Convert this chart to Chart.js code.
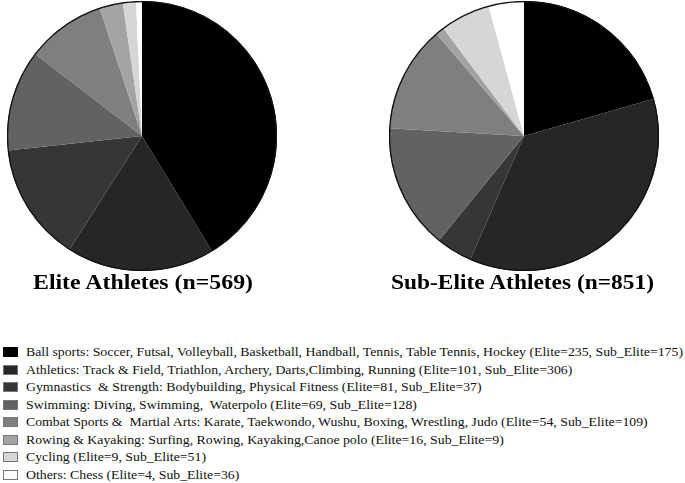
<!DOCTYPE html>
<html>
<head>
<meta charset="utf-8">
<script src="https://cdn.jsdelivr.net/npm/chart.js@4.4.1/dist/chart.umd.min.js"></script>
<style>
  html, body { margin: 0; padding: 0; background: #fff; }
  #wrap { position: relative; width: 685px; height: 483px; overflow: hidden; background: #fff; }
  .pie { position: absolute; top: 1px; width: 270px; height: 270px; }
  #c1 { left: 7px; }
  #c2 { left: 389px; }
  .title { position: absolute; top: 270px; font-family: "Liberation Serif", "Times New Roman", serif; font-weight: bold; font-size: 21px; line-height: 24px; white-space: pre; color: #000; transform-origin: left top; }
  #legend { position: absolute; left: 0; top: 343px; width: 685px; }
  .row { position: relative; height: 17.5px; color: #000; }
  .sw { position: absolute; left: 3px; top: 4px; width: 13px; height: 8px; border: 1px solid #777; box-sizing: content-box; }
  .txt { position: absolute; left: 26px; top: 0; transform-origin: left top; font-family: "Liberation Serif", "Times New Roman", serif; font-size: 13.5px; line-height: 17.5px; white-space: pre; color: #111; }
</style>
</head>
<body>
<div id="wrap">
  <canvas id="c1" class="pie" width="270" height="270"></canvas>
  <canvas id="c2" class="pie" width="270" height="270"></canvas>
  <div id="t1" class="title"></div>
  <div id="t2" class="title"></div>
  <div id="legend"></div>
</div>
<script>
// ---- data ----
const categories = [
  "Ball sports: Soccer, Futsal, Volleyball, Basketball, Handball, Tennis, Table Tennis, Hockey",
  "Athletics: Track & Field, Triathlon, Archery, Darts,Climbing, Running",
  "Gymnastics  & Strength: Bodybuilding, Physical Fitness",
  "Swimming: Diving, Swimming,  Waterpolo",
  "Combat Sports &  Martial Arts: Karate, Taekwondo, Wushu, Boxing, Wrestling, Judo",
  "Rowing & Kayaking: Surfing, Rowing, Kayaking,Canoe polo",
  "Cycling",
  "Others: Chess"
];
const eliteValues = [235, 101, 81, 69, 54, 16, 9, 4];
const subEliteValues = [175, 306, 37, 128, 109, 9, 51, 36];
const chartTitles = ["Elite Athletes (n=569)", "Sub-Elite Athletes (n=851)"];

// ---- styles ----
const sliceColors = ["#000000", "#262626", "#363636", "#626262", "#7f7f7f", "#a3a3a3", "#d6d6d6", "#ffffff"];

const outlinePlugin = {
  id: 'outline',
  afterDatasetsDraw(chart) {
    const arc = chart.getDatasetMeta(0).data[0];
    if (!arc) return;
    const ctx = chart.ctx;
    ctx.save();
    ctx.beginPath();
    ctx.arc(arc.x, arc.y, arc.outerRadius - 0.5, 0, Math.PI * 2);
    ctx.lineWidth = 1.3;
    ctx.strokeStyle = "#111";
    ctx.stroke();
    ctx.restore();
  }
};

function makePie(id, values) {
  return new Chart(document.getElementById(id), {
    type: 'pie',
    data: {
      labels: categories,
      datasets: [{
        data: values,
        backgroundColor: sliceColors,
        borderWidth: 0
      }]
    },
    options: {
      responsive: false,
      animation: false,
      layout: { padding: 0 },
      plugins: { legend: { display: false }, tooltip: { enabled: false }, title: { display: false } }
    },
    plugins: [outlinePlugin]
  });
}
makePie('c1', eliteValues);
makePie('c2', subEliteValues);

// ---- titles ----
function fitTitle(el, text, targetW, centerX) {
  el.textContent = text;
  const w = el.getBoundingClientRect().width;
  const s = targetW / w;
  el.style.left = (centerX - targetW / 2) + 'px';
  el.style.transform = 'scaleX(' + s + ')';
}
fitTitle(document.getElementById('t1'), chartTitles[0], 220, 142.5);
fitTitle(document.getElementById('t2'), chartTitles[1], 263, 522.5);

// ---- legend ----
const legend = document.getElementById('legend');
const labels = categories.map((c, i) => c + ' (Elite=' + eliteValues[i] + ', Sub_Elite=' + subEliteValues[i] + ')');
const spans = [];
labels.forEach((lab, i) => {
  const row = document.createElement('div');
  row.className = 'row';
  const sw = document.createElement('span');
  sw.className = 'sw';
  sw.style.background = sliceColors[i];
  if (i === 0) sw.style.borderColor = '#000';
  const t = document.createElement('span');
  t.className = 'txt';
  t.textContent = lab;
  row.appendChild(sw);
  row.appendChild(t);
  legend.appendChild(row);
  spans.push(t);
});
const firstW = spans[0].getBoundingClientRect().width;
const scale = 657 / firstW;
spans.forEach(t => { t.style.transform = 'scaleX(' + scale + ')'; });
</script>
</body>
</html>
